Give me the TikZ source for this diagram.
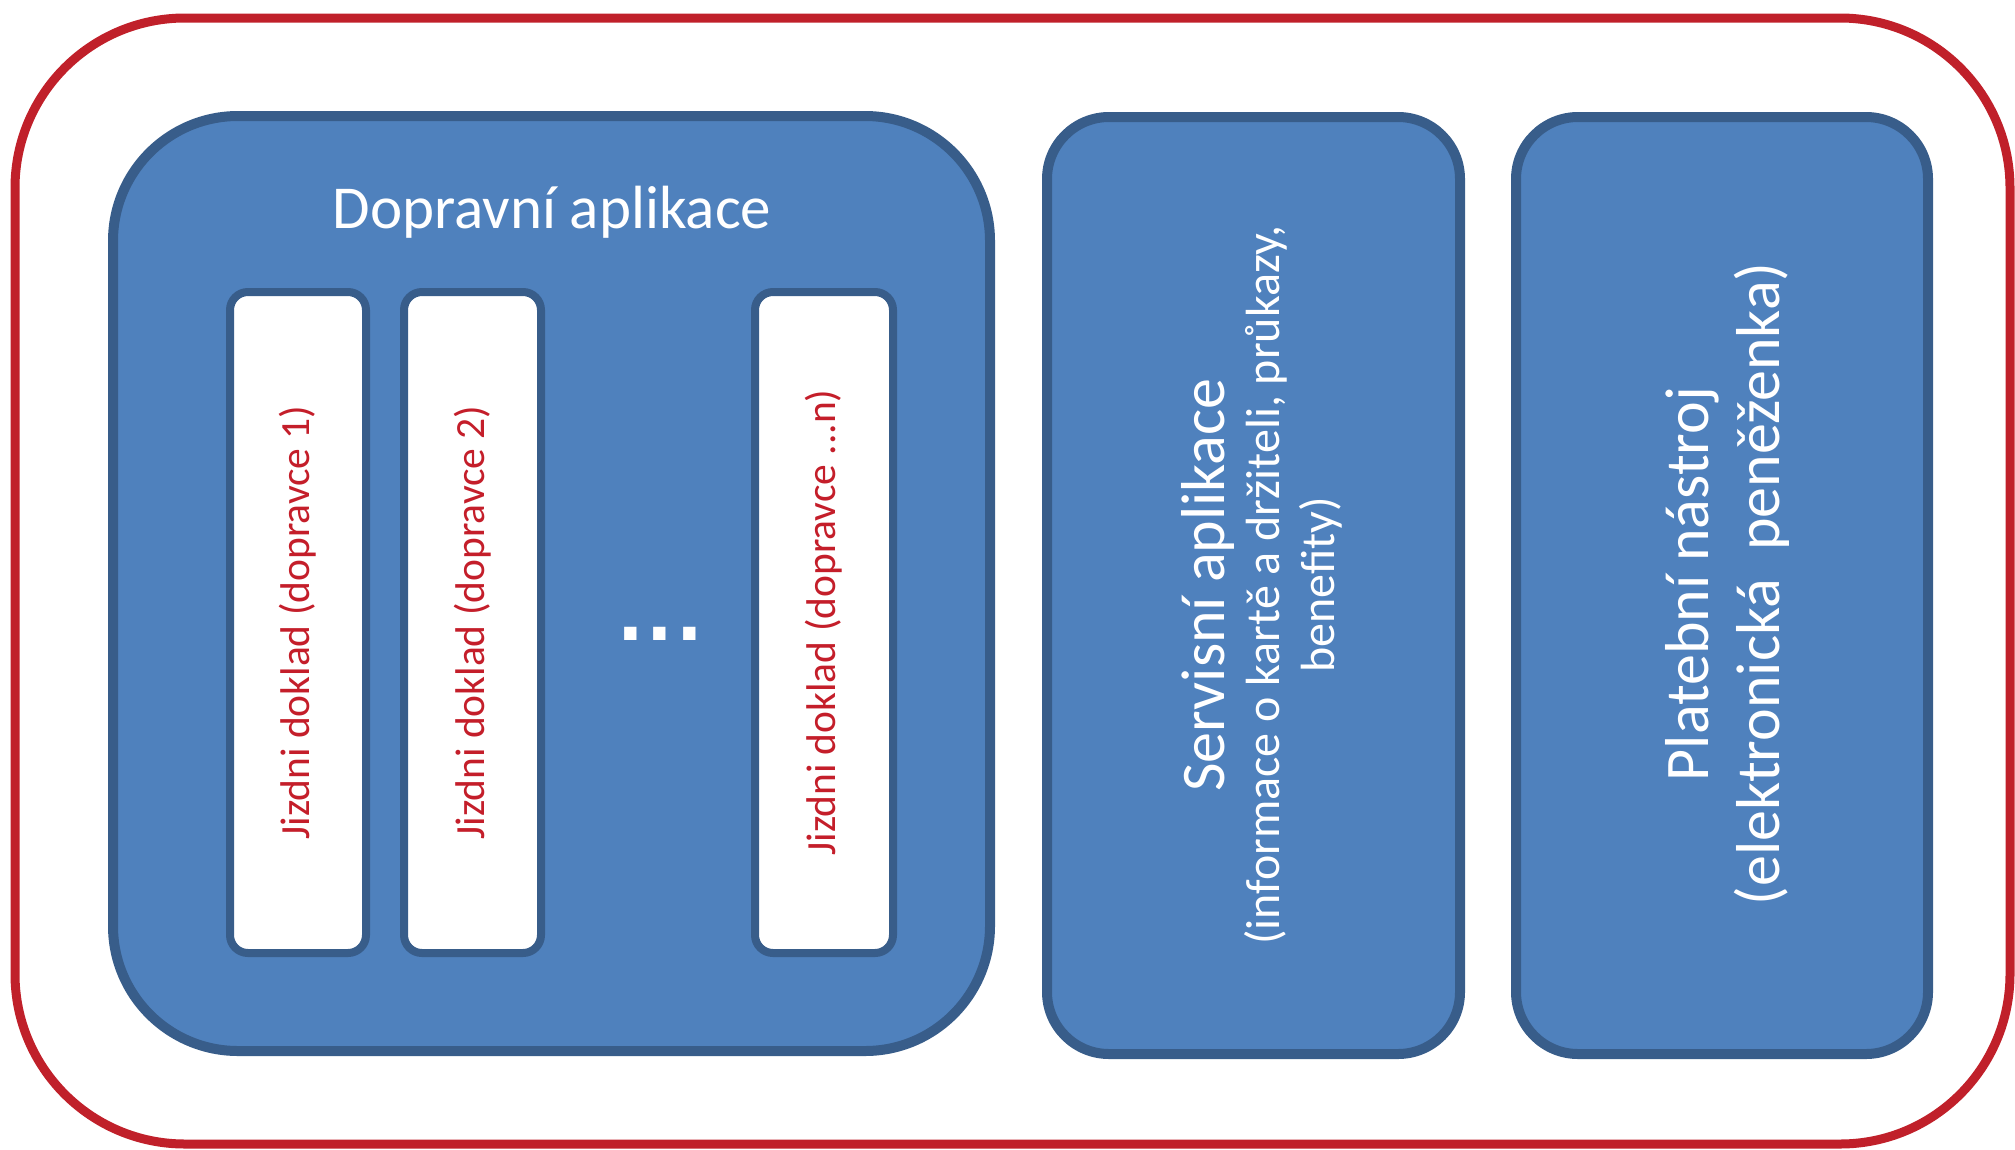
\documentclass[tikz,border=0pt]{standalone}
\usepackage{fontspec}
\setmainfont{Carlito}
\newfontfamily\dotfont{DejaVu Sans}
\definecolor{fillblue}{HTML}{4F81BD}
\definecolor{edgeblue}{HTML}{385D8A}
\definecolor{redline}{HTML}{C0202A}
\definecolor{redtext}{HTML}{C41E2A}
\begin{document}
\begin{tikzpicture}[x=1pt,y=-1pt,
  bluebox/.style={draw=edgeblue, fill=fillblue, line width=10pt, rounded corners=#1, inner sep=0pt, outer sep=0pt},
  ticketbox/.style={draw=edgeblue, fill=white, line width=8pt, rounded corners=18pt, inner sep=0pt, outer sep=0pt, minimum height=661pt},
  tickettext/.style={text=redtext, rotate=90, font=\fontsize{41.5}{48}\selectfont, inner sep=0pt},
  whitetext/.style={text=white, inner sep=0pt}]
\useasboundingbox (0,0) rectangle (2015,1149);
\node[draw=redline, line width=9pt, rounded corners=170pt, minimum width=1995pt, minimum height=1126pt, inner sep=0pt] (outer) at (1012.5,581) {};
% transport application
\node[bluebox=125pt, minimum width=877pt, minimum height=935pt] (doprava) at (551.5,583.5) {};
\node[whitetext, font=\fontsize{61}{72}\selectfont] (doptitle) at (552,212) {Dopravní aplikace};
\node[ticketbox, minimum width=136pt] (t1) at (298,622.5) {};
\node[ticketbox, minimum width=137pt] (t2) at (472.5,622.5) {};
\node[ticketbox, minimum width=138pt] (tn) at (824,622.5) {};
\node[tickettext] (t1text) at (t1.center) {Jizdni doklad (dopravce 1)};
\node[tickettext] (t2text) at (t2.center) {Jizdni doklad (dopravce 2)};
\node[tickettext] (tntext) at (tn.center) {Jizdni doklad (dopravce ...n)};
\node[whitetext, font=\fontsize{70}{80}\dotfont\bfseries] (dots) at (660,634) {.\hspace{3pt}.\hspace{3pt}.};
% service application
\node[bluebox=62pt, minimum width=413pt, minimum height=937pt] (servis) at (1253.5,585.5) {};
\node[whitetext, rotate=90, align=center, font=\fontsize{48}{55}\selectfont] (servistext) at (1262,585)
  {{\fontsize{62}{70}\selectfont Servisní aplikace}\\(informace o kartě a držiteli, průkazy,\\benefity)};
% payment instrument
\node[bluebox=62pt, minimum width=412pt, minimum height=937pt] (platba) at (1722,585.5) {};
\node[whitetext, rotate=90, align=center, font=\fontsize{62}{71}\selectfont] (platbatext) at (1727,584)
  {Platební nástroj\\(elektronická\ \ peněženka)};
\end{tikzpicture}
\end{document}
